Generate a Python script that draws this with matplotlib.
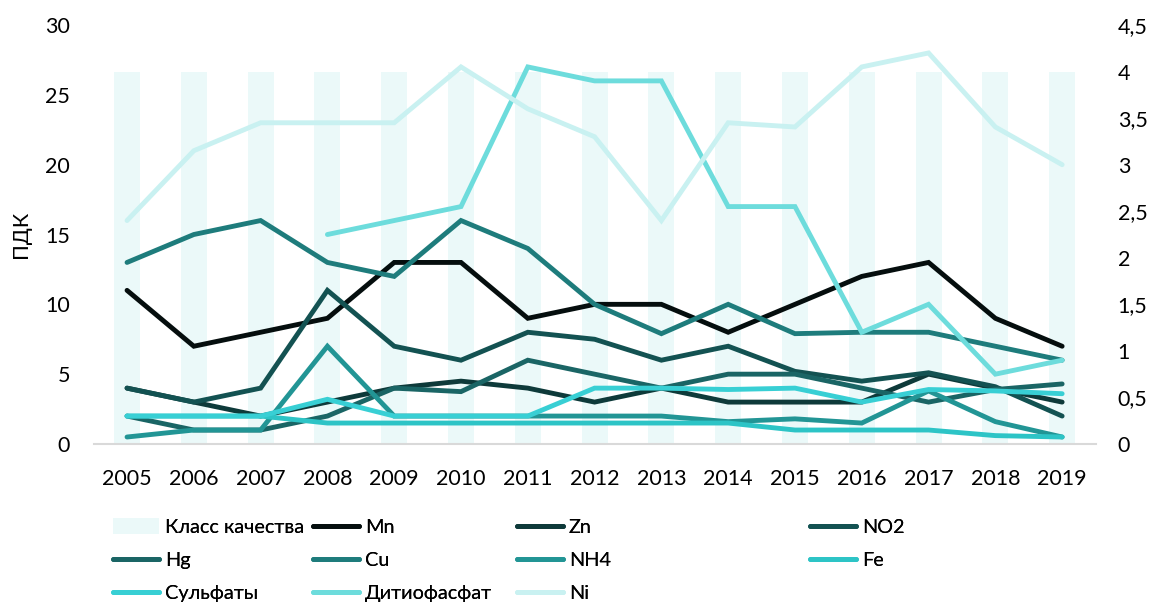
import matplotlib
matplotlib.use("Agg")
import matplotlib.pyplot as plt
from matplotlib.patches import Patch
from matplotlib.lines import Line2D
import numpy as np

plt.rcParams['font.family'] = ['Lato', 'Noto Sans', 'DejaVu Sans']

years = ["2005", "2006", "2007", "2008", "2009", "2010", "2011", "2012",
         "2013", "2014", "2015", "2016", "2017", "2018", "2019"]

quality_class = [4] * 15  # right axis

mn = [11, 7, 8, 9, 13, 13, 9, 10, 10, 8, 10, 12, 13, 9, 7]
zn = [4, 3, 2, 3, 4, 4.5, 4, 3, 4, 3, 3, 3, 5, 4, 3]
no2 = [4, 3, 4, 11, 7, 6, 8, 7.5, 6, 7, 5.2, 4.5, 5.1, 4.1, 2]
hg = [2, 1, 1, 2, 4, 3.75, 6, 5, 4, 5, 5, 4, 3, 3.9, 4.3]
cu = [13, 15, 16, 13, 12, 16, 14, 10, 7.9, 10, 7.9, 8, 8, 7, 6]
nh4 = [0.5, 1, 1, 7, 2, 2, 2, 2, 2, 1.6, 1.8, 1.5, 3.8, 1.6, 0.5]
fe = [2, 2, 2, 1.5, 1.5, 1.5, 1.5, 1.5, 1.5, 1.5, 1, 1, 1, 0.6, 0.5]
sulfates = [2, 2, 2, 3.2, 2, 2, 2, 4, 4, 3.9, 4, 3, 3.9, 3.8, 3.6]
dithio = [np.nan, np.nan, np.nan, 15, 16, 17, 27, 26, 26, 17, 17, 8, 10, 5, 6]
ni = [16, 21, 23, 23, 23, 27, 24, 22, 16, 23, 22.7, 27, 28, 22.7, 20]

series = [
    ("Mn", mn, "#050e0e"),
    ("Zn", zn, "#0e3a3a"),
    ("NO2", no2, "#135252"),
    ("Hg", hg, "#1a6565"),
    ("Cu", cu, "#1e7c7c"),
    ("NH4", nh4, "#229595"),
    ("Fe", fe, "#2dc4c6"),
    ("Сульфаты", sulfates, "#38cfd4"),
    ("Дитиофасфат", dithio, "#6ddcdc"),
    ("Ni", ni, "#c9f1f1"),
]
bar_color = "#ebf9f9"

fig = plt.figure(figsize=(11.56, 6.03), dpi=100)
ax = fig.add_axes([0.081, 0.2637, 0.8667, 0.6948])
ax2 = ax.twinx()

x = np.arange(len(years))
ax2.bar(x, quality_class, width=0.39, color=bar_color, zorder=1)
ax2.set_ylim(0, 4.5)
ax2.set_yticks(np.arange(0, 4.51, 0.5))
ax2.set_yticklabels([("%g" % v).replace(".", ",") for v in np.arange(0, 4.51, 0.5)])

lw = 3.5
handles = {}
for name, vals, col in series:
    ax.plot(x, vals, color=col, lw=lw, solid_capstyle='round',
            solid_joinstyle='miter', label=name)
    handles[name] = Line2D([0], [0], color=col, lw=lw, solid_capstyle='round')

ax.set_zorder(ax2.get_zorder() + 1)
ax.patch.set_visible(False)

ax.set_xlim(-0.5, len(years) - 0.5)
ax.set_ylim(0, 30)
ax.set_yticks(np.arange(0, 31, 5))
ax.set_xticks(x)
ax.set_xticklabels(years)

fs = 15.5
for a in (ax, ax2):
    for s in a.spines.values():
        s.set_visible(False)
    a.tick_params(length=0, labelsize=fs, colors="#000000")
ax.spines['bottom'].set_visible(True)
ax.spines['bottom'].set_color("#d9d9d9")
ax.spines['bottom'].set_linewidth(1.5)
ax.tick_params(axis='y', pad=17)
ax.tick_params(axis='x', pad=18)
ax2.tick_params(axis='y', pad=16)
for lbl in ax2.get_yticklabels():
    lbl.set_horizontalalignment('left')

ax.set_ylabel("ПДК", fontsize=fs, labelpad=10)

# legend, 4 columns placed individually
lfs = 14.3
cols = [
    [("Класс качества", Patch(facecolor=bar_color, edgecolor='none')),
     ("Hg", handles["Hg"]), ("Сульфаты", handles["Сульфаты"])],
    [("Mn", handles["Mn"]), ("Cu", handles["Cu"]), ("Дитиофасфат", handles["Дитиофасфат"])],
    [("Zn", handles["Zn"]), ("NH4", handles["NH4"]), ("Ni", handles["Ni"])],
    [("NO2", handles["NO2"]), ("Fe", handles["Fe"])],
]
col_x = [113, 313, 517, 810]
for cx, col in zip(col_x, cols):
    leg = fig.legend([h for _, h in col], [l for l, _ in col],
                     loc='upper left', bbox_to_anchor=(cx / 1156, 1 - 518 / 603),
                     frameon=False, fontsize=lfs, handlelength=2.3, handleheight=0.9,
                     handletextpad=0.3, labelspacing=0.75, borderpad=0, borderaxespad=0)
    fig.add_artist(leg)

fig.savefig("out.png", dpi=100)
